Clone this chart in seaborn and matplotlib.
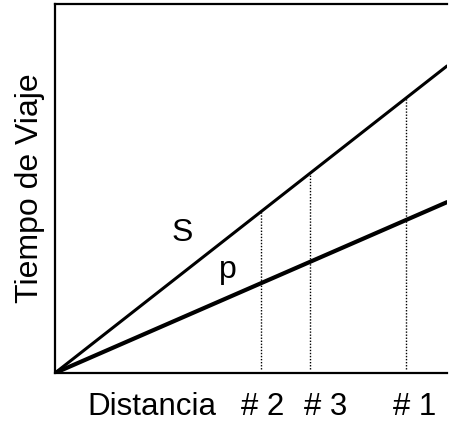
import numpy as np
import pandas as pd
import matplotlib
matplotlib.use("Agg")
import matplotlib.pyplot as plt
import seaborn as sns

# Data
distance = [0.0, 10.0]
s_time = [0.0, 8.32]
p_time = [0.0, 4.63]
stations = ["# 2", "# 3", "# 1"]
station_dist = [5.26, 6.50, 8.95]

sns.set_theme(style="white")
plt.rcParams["font.family"] = ["Liberation Sans", "DejaVu Sans"]
plt.rcParams["text.color"] = "black"
plt.rcParams["axes.labelcolor"] = "black"

fig = plt.figure(figsize=(4.51, 4.26), dpi=100)
ax = fig.add_axes([55 / 451, 53 / 426, 392 / 451, 369 / 426])

df = pd.DataFrame({
    "Distancia": distance * 2,
    "Tiempo": s_time + p_time,
    "onda": ["S"] * len(distance) + ["p"] * len(distance),
})
sns.lineplot(data=df[df.onda == "S"], x="Distancia", y="Tiempo", color="black",
             linewidth=2.2, ax=ax, legend=False)
sns.lineplot(data=df[df.onda == "p"], x="Distancia", y="Tiempo", color="black",
             linewidth=3.0, ax=ax, legend=False)

tops = np.interp(station_dist, distance, s_time)
ax.vlines(station_dist, 0.12, tops, colors="black", linestyles=(0, (1, 1.2)), linewidth=1.0)

ax.set_xlim(0, 10)
ax.set_ylim(0, 10)
ax.set_xticks([])
ax.set_yticks([])
ax.set_xlabel("")
ax.set_ylabel("Tiempo de Viaje", fontsize=23, labelpad=7, color="black")
for side in ["left", "top", "bottom"]:
    ax.spines[side].set_color("black")
    ax.spines[side].set_linewidth(1.6)
ax.spines["right"].set_visible(False)

ax.text(3.25, 3.8, "S", fontsize=23, ha="center", va="center", color="black")
ax.text(4.4, 2.8, "p", fontsize=23, ha="center", va="center", color="black")

fig.text(152 / 451, 1 - 407 / 426, "Distancia", fontsize=22.5, ha="center", va="center", color="black")
label_x = [263, 326, 415]
for lab, px in zip(stations, label_x):
    fig.text(px / 451, 1 - 407 / 426, lab, fontsize=22.5, ha="center", va="center", color="black")

fig.savefig("out.png", dpi=100)
